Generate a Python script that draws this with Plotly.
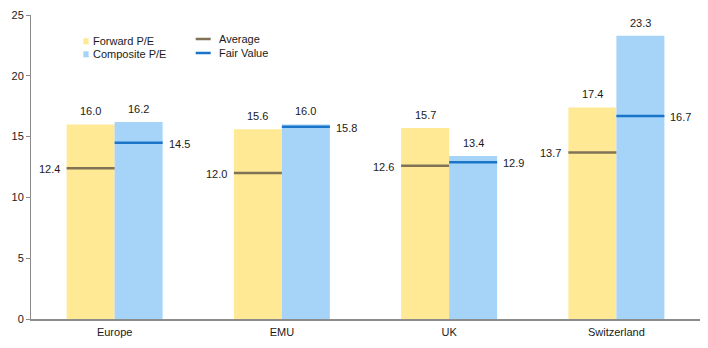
import plotly.graph_objects as go

# Valuation data by market
markets = ["Europe", "EMU", "UK", "Switzerland"]
forward_pe = [16.0, 15.6, 15.7, 17.4]
composite_pe = [16.2, 16.0, 13.4, 23.3]
average_pe = [12.4, 12.0, 12.6, 13.7]
fair_value = [14.5, 15.8, 12.9, 16.7]
y_ticks = [0, 5, 10, 15, 20, 25]

FWD_COLOR = "#FFE994"
COMP_COLOR = "#A6D4F8"
AVG_COLOR = "#7F7256"
FV_COLOR = "#1A74C7"
TEXT_COLOR = "#1a1a1a"
AXIS_COLOR = "#8c8c8c"
FONT = "Liberation Sans, Arial, sans-serif"

W = 0.287  # width of each bar in category units
idx = list(range(len(markets)))
x_fwd = [i - W / 2 for i in idx]
x_comp = [i + W / 2 for i in idx]

fig = go.Figure()
fig.add_trace(go.Bar(x=x_fwd, y=forward_pe, width=W, name="Forward P/E",
                     marker=dict(color=FWD_COLOR, line=dict(width=0))))
fig.add_trace(go.Bar(x=x_comp, y=composite_pe, width=W, name="Composite P/E",
                     marker=dict(color=COMP_COLOR, line=dict(width=0))))


def segments(starts, values):
    xs, ys = [], []
    for s, v in zip(starts, values):
        xs += [s, s + W, None]
        ys += [v, v, None]
    return xs, ys


ax, ay = segments([i - W for i in idx], average_pe)
fx, fy = segments(idx, fair_value)
fig.add_trace(go.Scatter(x=ax, y=ay, mode="lines", name="Average",
                         line=dict(color=AVG_COLOR, width=2.5)))
fig.add_trace(go.Scatter(x=fx, y=fy, mode="lines", name="Fair Value",
                         line=dict(color=FV_COLOR, width=2.5)))

annotations = []
lab_font = dict(family=FONT, size=11, color=TEXT_COLOR)
for i in idx:
    annotations.append(dict(x=x_fwd[i], y=forward_pe[i], xref="x", yref="y",
                            text=f"{forward_pe[i]:.1f}", showarrow=False,
                            yanchor="bottom", yshift=5, font=lab_font))
    annotations.append(dict(x=x_comp[i], y=composite_pe[i], xref="x", yref="y",
                            text=f"{composite_pe[i]:.1f}", showarrow=False,
                            yanchor="bottom", yshift=5, font=lab_font))
    annotations.append(dict(x=i - W, y=average_pe[i], xref="x", yref="y",
                            text=f"{average_pe[i]:.1f}", showarrow=False,
                            xanchor="right", xshift=-5, yshift=-1, font=lab_font))
    annotations.append(dict(x=i + W, y=fair_value[i], xref="x", yref="y",
                            text=f"{fair_value[i]:.1f}", showarrow=False,
                            xanchor="left", xshift=4, yshift=-1, font=lab_font))

# Hand-placed legend (two columns: bars, then reference lines)
L, R, T, B = 31, 8, 15, 29
PW, PH = 708 - L - R, 348 - T - B


def px(xp):
    return (xp - L) / PW


def py(yp):
    return (348 - B - yp) / PH


shapes = []
for label, color, yc in [("Forward P/E", FWD_COLOR, 41.3),
                         ("Composite P/E", COMP_COLOR, 54.3)]:
    shapes.append(dict(type="rect", xref="paper", yref="paper",
                       x0=px(83.3), x1=px(88.6), y0=py(yc - 3), y1=py(yc + 3),
                       fillcolor=color, line=dict(width=0)))
    annotations.append(dict(x=px(90.5), y=py(yc), xref="paper", yref="paper",
                            text=label, showarrow=False, xanchor="left",
                            yanchor="middle", font=lab_font))
for label, color, yc in [("Average", AVG_COLOR, 39.0), ("Fair Value", FV_COLOR, 53.0)]:
    shapes.append(dict(type="line", xref="paper", yref="paper",
                       x0=px(195.7), x1=px(210.7), y0=py(yc), y1=py(yc),
                       line=dict(color=color, width=2.5)))
    annotations.append(dict(x=px(216.5), y=py(yc), xref="paper", yref="paper",
                            text=label, showarrow=False, xanchor="left",
                            yanchor="middle", font=lab_font))

fig.update_layout(
    width=708, height=348,
    margin=dict(l=L, r=R, t=T, b=B),
    paper_bgcolor="white", plot_bgcolor="white",
    barmode="overlay", showlegend=False,
    font=dict(family=FONT, size=11, color=TEXT_COLOR),
    annotations=annotations, shapes=shapes,
    xaxis=dict(range=[-0.5, len(markets) - 0.5], tickmode="array",
               tickvals=idx, ticktext=markets, showgrid=False, zeroline=False,
               showline=True, linecolor=AXIS_COLOR, linewidth=1.5,
               ticks="", ticklabelstandoff=2, fixedrange=True),
    yaxis=dict(range=[0, 25], tickmode="array", tickvals=y_ticks,
               showgrid=False, zeroline=False, showline=True,
               linecolor=AXIS_COLOR, linewidth=1, ticks="outside",
               ticklen=4, tickcolor=AXIS_COLOR, fixedrange=True),
)

fig.write_html("out.html")
